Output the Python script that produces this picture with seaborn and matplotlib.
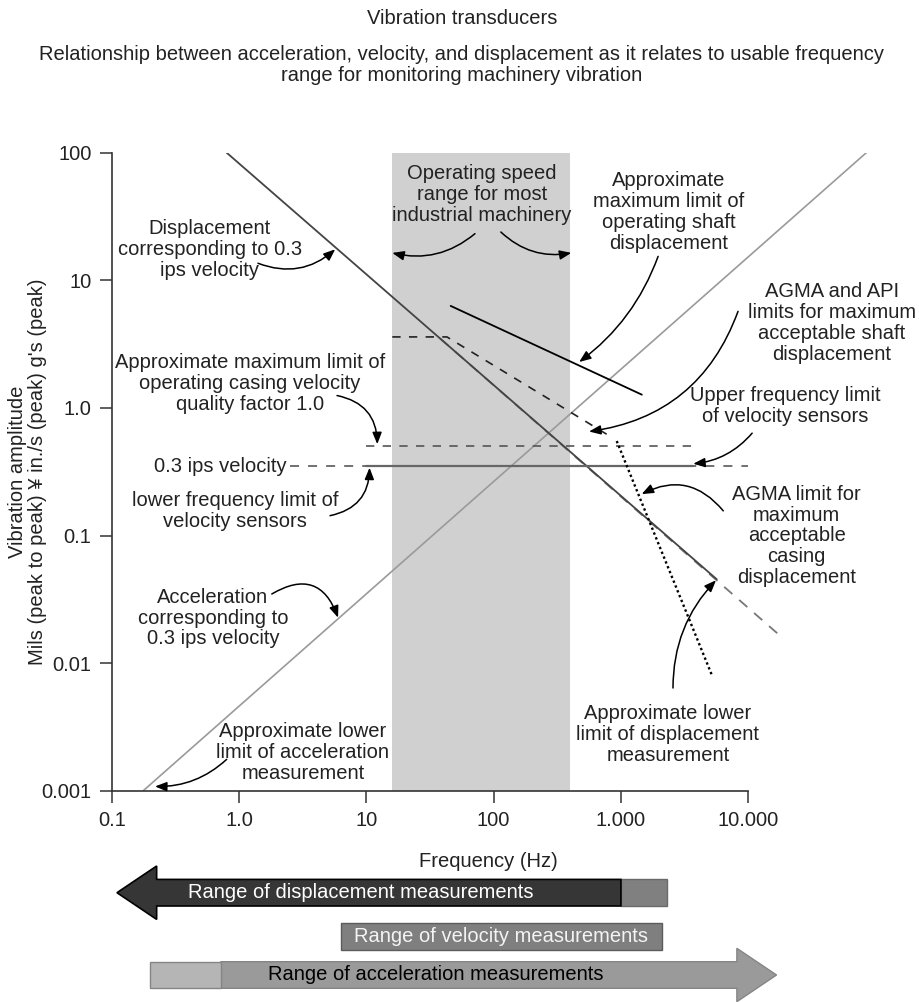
import matplotlib
matplotlib.use("Agg")
import matplotlib.pyplot as plt
import matplotlib.transforms as mtransforms
from matplotlib.patches import Polygon
import seaborn as sns

# --- values (frequency in Hz, amplitude) ---
disp_freq = [0.8, 5660]            # displacement for 0.3 ips velocity
disp_amp = [100, 0.0454]
casing_freq = [38, 18300]          # AGMA casing displacement limit
casing_amp = [3.5, 0.016]
accel_freq = [0.177, 84700]        # acceleration for 0.3 ips velocity
accel_amp = [0.001, 100]
shaft_op_freq = [46, 1460]         # max operating shaft displacement
shaft_op_amp = [6.3, 1.27]
shaft_lim_freq = [16, 43, 820]     # AGMA / API shaft limits
shaft_lim_amp = [3.6, 3.6, 0.6]
disp_floor_freq = [927, 5170]      # lower limit of displacement measurement
disp_floor_amp = [0.55, 0.0081]
casing_vel_freq = [10, 3700]       # casing velocity, quality factor 1.0
casing_vel_amp = [0.5, 0.5]
ips_freq = [2.5, 10000]            # 0.3 ips velocity
ips_amp = [0.35, 0.35]
vel_sensor_freq = [10, 3700]       # usable velocity sensor band
vel_sensor_amp = [0.35, 0.35]

operating_band = [16, 400]

x_ticks = [0.1, 1, 10, 100, 1000, 10000]
x_labels = ["0.1", "1.0", "10", "100", "1.000", "10.000"]
y_ticks = [0.001, 0.01, 0.1, 1, 10, 100]
y_labels = ["0.001", "0.01", "0.1", "1.0", "10", "100"]

range_labels = ["Range of displacement measurements",
                "Range of velocity measurements",
                "Range of acceleration measurements"]
range_lo = [0.11, 6.3, 0.2]
range_hi = [2300, 2100, 16700]
range_split = [1000, None, 0.72]

# (text, text position, arrow start, arrow tip, curvature)
notes = [
    ("Displacement\ncorresponding to 0.3\nips velocity", (0.59, 17.5), (1.41, 13.6), (5.7, 17.5), 0.3),
    ("Approximate\nmaximum limit of\noperating shaft\ndisplacement", (2390, 34.2), (1960, 15.4), (470, 2.29), -0.15),
    ("AGMA and API\nlimits for maximum\nacceptable shaft\ndisplacement", (45300, 4.63), (8320, 5.71), (562, 0.653), -0.3),
    ("Upper frequency limit\nof velocity sensors", (19450, 1.04), (10740, 0.634), (3700, 0.365), -0.2),
    ("Approximate maximum limit of\noperating casing velocity\nquality factor 1.0", (1.22, 1.55), (5.89, 1.25), (12.2, 0.52), -0.4),
    ("lower frequency limit of\nvelocity sensors", (0.93, 0.155), (5.19, 0.143), (10.6, 0.34), 0.4),
    ("Acceleration\ncorresponding to\n0.3 ips velocity", (0.625, 0.0225), (1.81, 0.0348), (6.0, 0.0227), -0.6),
    ("Approximate lower\nlimit of acceleration\nmeasurement", (3.18, 0.002), (0.80, 0.00176), (0.219, 0.00108), -0.2),
    ("AGMA limit for\nmaximum\nacceptable\ncasing\ndisplacement", (24040, 0.0993), (6370, 0.156), (1457, 0.211), 0.4),
    ("Approximate lower\nlimit of displacement\nmeasurement", (2344, 0.00276), (2566, 0.00638), (5585, 0.0446), -0.2),
]

sns.set_theme(style="ticks")
plt.rcParams["font.family"] = ["Liberation Sans", "DejaVu Sans"]
FS = 14.5
INK = "#222222"

fig = plt.figure(figsize=(9.2, 10.02), dpi=100)
ax = fig.add_axes([0.12141, 0.21088, 0.83022, 0.63672])
ax.set(xscale="log", yscale="log")

ax.axvspan(*operating_band, color="#d0d0d0", lw=0, zorder=0)

arrow_kw = dict(arrowstyle="-|>,head_length=0.5,head_width=0.2", color="black",
                lw=1.1, shrinkA=0, shrinkB=0, mutation_scale=14)

# lines
sns.lineplot(x=accel_freq, y=accel_amp, ax=ax, color="#9a9a9a", lw=1.2, errorbar=None)
sns.lineplot(x=casing_freq, y=casing_amp, ax=ax, color="#777777", lw=1.3,
             linestyle=(0, (6, 5)), errorbar=None)
sns.lineplot(x=disp_freq, y=disp_amp, ax=ax, color="#444444", lw=1.3, errorbar=None)
sns.lineplot(x=shaft_op_freq, y=shaft_op_amp, ax=ax, color="black", lw=1.3, errorbar=None)
sns.lineplot(x=shaft_lim_freq, y=shaft_lim_amp, ax=ax, color=INK, lw=1.2,
             linestyle=(0, (5, 5)), errorbar=None)
sns.lineplot(x=casing_vel_freq, y=casing_vel_amp, ax=ax, color="#555555", lw=1.2,
             linestyle=(0, (5, 5)), errorbar=None)
sns.lineplot(x=ips_freq, y=ips_amp, ax=ax, color="#666666", lw=1.3,
             linestyle=(0, (5, 5)), errorbar=None)
sns.lineplot(x=vel_sensor_freq, y=vel_sensor_amp, ax=ax, color="#666666", lw=1.6, errorbar=None)
sns.lineplot(x=disp_floor_freq, y=disp_floor_amp, ax=ax, color="black", lw=1.7,
             linestyle=(0, (1, 1.2)), errorbar=None)

# annotations
for text, txy, start, tip, rad in notes:
    ax.text(*txy, text, fontsize=FS, ha="center", va="center", color=INK, linespacing=1.12)
    ax.annotate("", xy=tip, xytext=start,
                arrowprops=dict(connectionstyle=f"arc3,rad={rad}", **arrow_kw))

ax.text(81, 47, "Operating speed\nrange for most\nindustrial machinery", fontsize=FS,
        ha="center", va="center", color=INK, linespacing=1.12)
ax.annotate("", xy=(operating_band[0], 16.4), xytext=(71.4, 23.2),
            arrowprops=dict(connectionstyle="arc3,rad=-0.25", **arrow_kw))
ax.annotate("", xy=(operating_band[1] * 1.02, 16.4), xytext=(114, 23.9),
            arrowprops=dict(connectionstyle="arc3,rad=0.25", **arrow_kw))
ax.text(2.38, ips_amp[0], "0.3 ips velocity", fontsize=FS, ha="right", va="center", color=INK)

# axes styling
ax.set_xlim(0.1, 1e5)
ax.set_ylim(0.001, 100)
ax.minorticks_off()
ax.set_xticks(x_ticks, x_labels)
ax.set_yticks(y_ticks, y_labels)
ax.tick_params(direction="out", length=8.5, width=1.1, color="#333333",
               labelsize=FS, labelcolor=INK, pad=6)
sns.despine(ax=ax)
for side in ("left", "bottom"):
    ax.spines[side].set_color("#333333")
    ax.spines[side].set_linewidth(1.2)
ax.spines["bottom"].set_bounds(x_ticks[0], x_ticks[-1])

ax.set_xlabel("Frequency (Hz)", fontsize=FS, color=INK)
ax.xaxis.set_label_coords(0.493, -0.096)
ax.set_ylabel("Vibration amplitude\nMils (peak to peak) \u00a5 in./s (peak) g's (peak)",
              fontsize=FS, color=INK, linespacing=1.05)
ax.yaxis.set_label_coords(-0.085, 0.5)

fig.text(0.502, 1 - 19 / 1002, "Vibration transducers", fontsize=FS, ha="center", va="center", color=INK)
fig.text(0.502, 1 - 65 / 1002,
         "Relationship between acceleration, velocity, and displacement as it relates to usable frequency\n"
         "range for monitoring machinery vibration",
         fontsize=FS, ha="center", va="center", color=INK, linespacing=1.1)

# measurement range arrows below the axis (x in Hz, y in figure pixels)
trans = mtransforms.blended_transform_factory(ax.transData, fig.transFigure)


def fy(py):
    return 1 - py / 1002


head = 2.05  # arrow head length as frequency ratio

# displacement: arrow pointing left
lo, hi, split = range_lo[0], range_hi[0], range_split[0]
cy, bh, hh = 892.7, 13.3, 26.7
ax.add_patch(Polygon([(split, fy(cy - bh)), (hi, fy(cy - bh)), (hi, fy(cy + bh)), (split, fy(cy + bh))],
                     closed=True, transform=trans, clip_on=False, fc="#808080", ec="#6a6a6a", lw=1))
ax.add_patch(Polygon([(lo, fy(cy)), (lo * head, fy(cy - hh)), (lo * head, fy(cy - bh)),
                      (split, fy(cy - bh)), (split, fy(cy + bh)), (lo * head, fy(cy + bh)),
                      (lo * head, fy(cy + hh))],
                     closed=True, transform=trans, clip_on=False, fc="#363636", ec="black", lw=1.2))
ax.text(0.397, fy(cy), range_labels[0], transform=trans, fontsize=FS, color="white",
        ha="left", va="center")

# velocity: plain bar
lo, hi = range_lo[1], range_hi[1]
cy = 936.7
ax.add_patch(Polygon([(lo, fy(cy - bh)), (hi, fy(cy - bh)), (hi, fy(cy + bh)), (lo, fy(cy + bh))],
                     closed=True, transform=trans, clip_on=False, fc="#7f7f7f", ec="#5c5c5c", lw=1))
ax.text((lo * hi) ** 0.5, fy(cy), range_labels[1], transform=trans, fontsize=FS, color="#f4f4f4",
        ha="center", va="center")

# acceleration: arrow pointing right
lo, hi, split = range_lo[2], range_hi[2], range_split[2]
cy = 975
ax.add_patch(Polygon([(split, fy(cy - bh)), (hi / head, fy(cy - bh)), (hi / head, fy(cy - hh)),
                      (hi, fy(cy)), (hi / head, fy(cy + hh)), (hi / head, fy(cy + bh)),
                      (split, fy(cy + bh))],
                     closed=True, transform=trans, clip_on=False, fc="#9a9a9a", ec="#858585", lw=1))
ax.add_patch(Polygon([(lo, fy(cy - bh)), (split, fy(cy - bh)), (split, fy(cy + bh)), (lo, fy(cy + bh))],
                     closed=True, transform=trans, clip_on=False, fc="#b5b5b5", ec="#858585", lw=1))
ax.text(1.70, fy(cy), range_labels[2], transform=trans, fontsize=FS, color="black",
        ha="left", va="center")

fig.savefig("out.png", dpi=100, facecolor="white")
